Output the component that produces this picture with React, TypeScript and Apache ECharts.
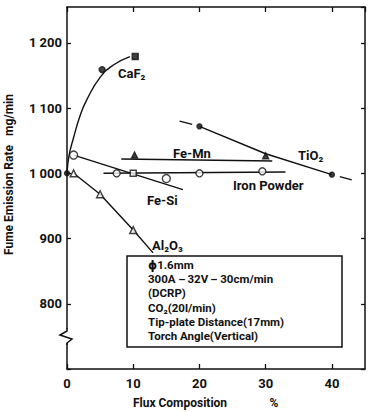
import React, { useEffect, useRef } from "react";
import * as echarts from "echarts";

// ---- data ----
const X_TICKS = [0, 10, 20, 30, 40];
const Y_TICKS = [800, 900, 1000, 1100, 1200];

const CAF2_CURVE = [[0, 1000], [0.3, 1027], [1, 1055], [2, 1089], [3, 1113], [5, 1147], [7, 1166], [9.5, 1179]];
const CAF2_PTS = [[5.3, 1159]];
const CAF2_SQUARE = [[10.3, 1179]];

const FE_SI_LINE = [[1, 1028], [17.5, 975]];
const FE_SI_PTS = [[1, 1028], [15, 992]];

const IRON_LINE = [[5.5, 1000], [33, 1002]];
const IRON_PTS = [[7.5, 1000], [20, 1000], [29.5, 1003]];
const IRON_SQUARE = [[10, 1000]];

const FE_MN_LINE = [[8.2, 1022], [31, 1019]];
const FE_MN_PTS = [[10.2, 1028], [30, 1027]];

const TIO2_LINE = [[20, 1072], [30, 1030], [40, 998]];
const TIO2_HEAD = [[17, 1080], [18.9, 1075]];
const TIO2_TAIL = [[41.2, 995], [43, 990]];
const TIO2_PTS = [[20, 1072], [40, 998]];

const AL2O3_LINE = [[1, 1000], [5, 968], [10, 913], [13, 878]];
const AL2O3_PTS = [[1, 1000], [5, 968], [10, 913]];

const BASE_PT = [[0, 1000]];

const SERIES_LABELS = ["CaF₂", "Fe-Mn", "TiO₂", "Fe-Si", "Iron Powder", "Al₂O₃"];
const CONDITIONS = [
  "ϕ1.6mm",
  "300A－32V－30cm/min",
  "(DCRP)",
  "CO₂(20l/min)",
  "Tip-plate Distance(17mm)",
  "Torch Angle(Vertical)",
];

const INK = "#111";
const FONT = "Roboto, 'DejaVu Sans', sans-serif";

function lineSeries(data: number[][], smooth = false) {
  return {
    type: "line",
    data,
    smooth,
    showSymbol: false,
    symbol: "none",
    lineStyle: { color: INK, width: 1.4 },
    z: 2,
    silent: true,
  };
}

function pointSeries(data: number[][], symbol: string, size: number, filled: boolean) {
  return {
    type: "scatter",
    data,
    symbol,
    symbolSize: size,
    itemStyle: {
      color: filled ? INK : "#fff",
      borderColor: INK,
      borderWidth: 1.4,
    },
    z: 5,
    silent: true,
  };
}

export default function App() {
  const ref = useRef<HTMLDivElement>(null);

  useEffect(() => {
    const chart = echarts.init(ref.current!, null, { renderer: "svg" });

    const labelPos = [
      [118, 73],
      [173, 153],
      [298, 155],
      [147, 200],
      [233, 185],
      [152, 245],
    ];

    const graphic: any[] = [];
    // axis break
    graphic.push({
      type: "rect",
      shape: { x: 63, y: 329, width: 10, height: 14 },
      style: { fill: "#fff" },
      z: 50,
    });
    graphic.push({
      type: "polyline",
      shape: { points: [[67, 328], [67, 331], [60, 335], [72, 339], [67, 343], [67, 345]] },
      style: { stroke: INK, lineWidth: 1.5, fill: "none" },
      z: 51,
    });
    // series labels
    SERIES_LABELS.forEach((t, i) => {
      graphic.push({
        type: "text",
        x: labelPos[i][0],
        y: labelPos[i][1],
        style: {
          text: t,
          fill: INK,
          font: `bold 13px ${FONT}`,
          verticalAlign: "middle",
        },
        z: 60,
      });
    });
    // conditions box
    graphic.push({
      type: "rect",
      shape: { x: 127, y: 256, width: 215, height: 91 },
      style: { fill: "#fff", stroke: INK, lineWidth: 1.5 },
      z: 40,
    });
    CONDITIONS.forEach((t, i) => {
      graphic.push({
        type: "text",
        x: 148,
        y: 265 + i * 14.2,
        style: {
          text: t,
          fill: INK,
          font: `bold 11.5px ${FONT}`,
          verticalAlign: "middle",
        },
        z: 41,
      });
    });
    // axis names
    graphic.push({
      type: "text",
      x: 9,
      y: 200,
      rotation: Math.PI / 2,
      style: { text: "Fume Emission Rate", fill: INK, font: `bold 12px ${FONT}`, align: "center", verticalAlign: "middle" },
    });
    graphic.push({
      type: "text",
      x: 9,
      y: 115,
      rotation: Math.PI / 2,
      style: { text: "mg/min", fill: INK, font: `bold 12px ${FONT}`, align: "center", verticalAlign: "middle" },
    });
    graphic.push({
      type: "text",
      x: 180,
      y: 403,
      style: { text: "Flux Composition", fill: INK, font: `bold 12px ${FONT}`, align: "center", verticalAlign: "middle" },
    });
    graphic.push({
      type: "text",
      x: 274,
      y: 403,
      style: { text: "%", fill: INK, font: `bold 12px ${FONT}`, align: "center", verticalAlign: "middle" },
    });

    const axisLine = { show: true, lineStyle: { color: INK, width: 1.5 } };

    chart.setOption({
      animation: false,
      backgroundColor: "#fff",
      grid: { left: 67, right: 3, top: 7, bottom: 43 },
      xAxis: [
        {
          type: "value",
          min: 0,
          max: 45,
          interval: 10,
          axisLine: { ...axisLine, onZero: false },
          axisTick: { show: true, inside: true, length: 5, lineStyle: { color: INK, width: 1.3 } },
          axisLabel: {
            color: INK,
            fontFamily: FONT,
            fontWeight: "bold",
            fontSize: 13,
            margin: 8,
            showMaxLabel: false,
            formatter: (v: number) => (X_TICKS.includes(v) ? String(v) : ""),
          },
          splitLine: { show: false },
        },
        {
          type: "value",
          position: "top",
          min: 0,
          max: 45,
          interval: 10,
          axisLine: { ...axisLine, onZero: false },
          axisTick: { show: true, inside: true, length: 5, lineStyle: { color: INK, width: 1.3 } },
          axisLabel: { show: false },
          splitLine: { show: false },
        },
      ],
      yAxis: [
        {
          type: "value",
          min: 700,
          max: 1255,
          interval: 100,
          axisLine: { ...axisLine, onZero: false },
          axisTick: { show: true, inside: true, length: 4, lineStyle: { color: INK, width: 1.3 } },
          axisLabel: {
            color: INK,
            fontFamily: FONT,
            fontWeight: "bold",
            fontSize: 13,
            margin: 5,
            showMaxLabel: false,
            formatter: (v: number) => {
              if (!Y_TICKS.includes(v)) return "";
              return v >= 1000 ? "1 " + String(v - 1000).padStart(3, "0") : String(v);
            },
          },
          splitLine: { show: false },
        },
        {
          type: "value",
          position: "right",
          min: 700,
          max: 1255,
          interval: 100,
          axisLine: { ...axisLine, onZero: false },
          axisTick: { show: true, inside: true, length: 4, lineStyle: { color: INK, width: 1.3 } },
          axisLabel: { show: false },
          splitLine: { show: false },
        },
      ],
      series: [
        lineSeries(CAF2_CURVE, true),
        pointSeries(CAF2_PTS, "circle", 6, true),
        pointSeries(CAF2_SQUARE, "rect", 6, true),
        lineSeries(FE_SI_LINE),
        pointSeries(FE_SI_PTS, "circle", 8, false),
        lineSeries(IRON_LINE),
        pointSeries(IRON_PTS, "circle", 7, false),
        pointSeries(IRON_SQUARE, "rect", 6, false),
        lineSeries(FE_MN_LINE),
        pointSeries(FE_MN_PTS, "triangle", 6, true),
        lineSeries(TIO2_LINE),
        lineSeries(TIO2_HEAD),
        lineSeries(TIO2_TAIL),
        pointSeries(TIO2_PTS, "circle", 5, true),
        lineSeries(AL2O3_LINE),
        pointSeries(AL2O3_PTS, "triangle", 7, false),
        pointSeries(BASE_PT, "circle", 5, true),
      ],
      graphic,
    });

    return () => chart.dispose();
  }, []);

  return (
    <div
      ref={ref}
      style={{ position: "fixed", left: 0, top: 0, width: 368, height: 412, background: "#fff" }}
    />
  );
}
